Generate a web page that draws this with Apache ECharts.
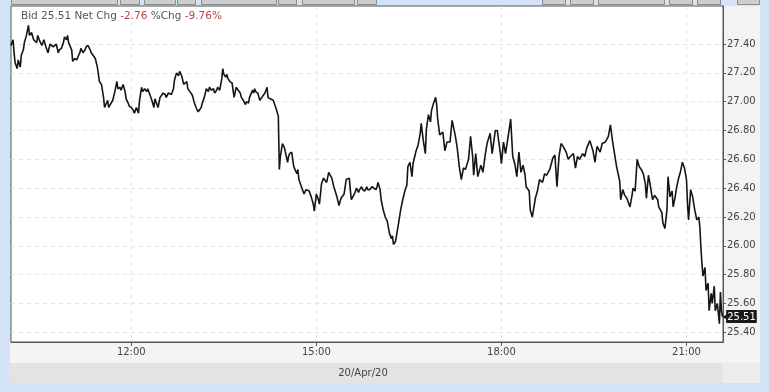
<!DOCTYPE html>
<html>
<head>
<meta charset="utf-8">
<script src="https://cdn.jsdelivr.net/npm/echarts@6/dist/echarts.min.js"></script>
<style>
html,body{margin:0;padding:0;background:#d3e4f7;}
#chart{width:769px;height:392px;}
</style>
</head>
<body>
<div id="chart"></div>
<script>
// ---- data ----
const times = [
"10:03","10:05","10:06","10:07","10:09","10:10","10:12","10:13","10:15","10:16","10:18","10:20","10:21","10:23","10:25","10:28","10:29","10:31","10:33","10:35","10:37","10:39","10:41","10:44","10:47","10:49","10:50","10:52","10:54","10:55","10:57","10:58","10:59",
"11:02","11:03","11:05","11:07","11:08","11:10","11:11","11:13","11:15","11:16","11:18","11:20","11:21","11:23","11:25","11:27","11:29","11:31","11:33","11:34","11:37","11:38","11:39","11:42","11:44","11:46","11:47","11:49","11:50","11:52","11:54","11:55","11:57","11:58",
"12:00","12:02","12:03","12:05","12:07","12:08","12:10","12:11","12:13","12:15","12:16","12:18","12:20","12:22","12:23","12:26","12:28","12:31","12:33","12:34","12:36","12:39","12:41","12:42","12:44","12:46","12:47","12:49","12:50","12:51","12:54","12:55","12:57","12:59",
"13:00","13:01","13:03","13:05","13:08","13:09","13:11","13:13","13:15","13:16","13:18","13:20","13:21","13:23","13:24","13:26","13:27","13:28","13:29","13:30","13:32","13:33","13:34","13:36","13:38","13:39","13:40","13:42","13:44","13:46","13:47","13:49","13:51","13:52","13:54","13:55","13:58","13:59",
"14:00","14:01","14:03","14:05","14:07","14:08","14:10","14:12","14:13","14:15","14:16","14:18","14:19","14:21","14:23","14:24","14:25","14:27","14:29","14:32","14:33","14:34","14:36","14:38","14:41","14:42","14:43","14:46","14:48","14:50","14:53","14:55","14:57","14:58",
"15:00","15:02","15:03","15:05","15:07","15:10","15:12","15:15","15:17","15:20","15:22","15:24","15:27","15:29","15:32","15:33","15:34","15:37","15:39","15:41","15:42","15:44","15:45","15:47","15:49","15:50","15:52","15:54","15:55","15:58","15:59",
"16:00","16:02","16:03","16:05","16:07","16:09","16:11","16:13","16:14","16:15","16:17","16:20","16:22","16:24","16:26","16:28","16:29","16:31","16:33","16:34","16:37","16:39","16:41","16:42","16:44","16:46","16:47","16:49","16:51","16:52","16:54","16:56","16:57","16:58",
"17:00","17:03","17:05","17:07","17:10","17:12","17:15","17:17","17:19","17:21","17:23","17:25","17:28","17:30","17:32","17:33","17:35","17:37","17:40","17:42","17:44","17:46","17:49","17:51","17:54","17:56","17:59",
"18:00","18:02","18:04","18:07","18:09","18:11","18:13","18:15","18:17","18:19","18:21","18:23","18:24","18:27","18:28","18:30","18:33","18:35","18:37","18:40","18:42","18:44","18:47","18:50","18:52","18:54","18:56","18:58",
"19:00","19:03","19:05","19:07","19:10","19:12","19:14","19:16","19:19","19:21","19:23","19:26","19:29","19:31","19:33","19:36","19:38","19:41","19:44","19:46","19:48","19:50","19:52","19:55","19:56","19:58",
"20:00","20:02","20:05","20:07","20:08","20:10","20:12","20:14","20:16","20:18","20:20","20:21","20:23","20:25","20:27","20:29","20:32","20:33","20:36","20:37","20:39","20:41","20:42","20:44","20:46","20:47","20:49","20:50","20:52","20:54","20:56","20:58",
"21:00","21:01","21:02","21:04","21:06","21:08","21:10","21:12","21:13","21:14","21:15","21:16","21:18","21:19","21:21","21:22","21:24","21:25","21:27","21:28","21:30","21:32","21:33","21:34","21:35"
];
const prices = [
27.39,27.43,27.34,27.27,27.23,27.29,27.24,27.32,27.36,27.41,27.46,27.53,27.46,27.48,27.43,27.41,27.46,27.42,27.39,27.43,27.38,27.34,27.40,27.38,27.40,27.34,27.36,27.37,27.41,27.45,27.43,27.46,27.41,
27.36,27.28,27.30,27.29,27.31,27.34,27.37,27.34,27.36,27.38,27.39,27.36,27.34,27.32,27.30,27.24,27.14,27.12,27.03,26.96,27.01,26.96,26.96,27.01,27.07,27.14,27.09,27.10,27.08,27.12,27.07,27.02,26.99,26.97,
26.96,26.94,26.92,26.96,26.92,27.01,27.10,27.07,27.09,27.07,27.09,27.05,27.01,26.96,27.02,26.96,27.03,27.06,27.05,27.03,27.06,27.05,27.09,27.15,27.20,27.18,27.21,27.18,27.15,27.12,27.14,27.09,27.07,27.05,
27.03,27.00,26.96,26.93,26.96,26.99,27.03,27.09,27.07,27.10,27.08,27.09,27.06,27.08,27.10,27.08,27.09,27.16,27.23,27.19,27.17,27.19,27.16,27.14,27.13,27.08,27.03,27.10,27.08,27.06,27.03,27.01,26.98,27.00,26.99,27.03,27.08,27.06,
27.09,27.07,27.06,27.01,27.03,27.03,27.06,27.10,27.03,27.02,27.03,27.01,27.00,26.95,26.90,26.53,26.62,26.71,26.68,26.58,26.62,26.64,26.65,26.55,26.50,26.53,26.46,26.40,26.36,26.39,26.38,26.34,26.29,26.24,
26.36,26.32,26.29,26.43,26.47,26.44,26.51,26.47,26.41,26.34,26.28,26.33,26.36,26.46,26.47,26.39,26.32,26.36,26.40,26.37,26.39,26.41,26.39,26.38,26.41,26.39,26.39,26.41,26.40,26.39,26.41,
26.44,26.39,26.32,26.25,26.20,26.17,26.09,26.05,26.07,26.01,26.03,26.16,26.25,26.32,26.38,26.42,26.55,26.58,26.48,26.57,26.66,26.70,26.78,26.85,26.73,26.64,26.81,26.91,26.86,26.94,26.99,27.03,26.98,26.88,
26.77,26.79,26.66,26.72,26.72,26.87,26.77,26.68,26.55,26.46,26.54,26.53,26.60,26.76,26.62,26.49,26.64,26.48,26.56,26.51,26.62,26.71,26.78,26.64,26.80,26.80,26.64,
26.57,26.72,26.64,26.78,26.88,26.62,26.57,26.48,26.65,26.51,26.56,26.49,26.41,26.38,26.25,26.20,26.33,26.38,26.46,26.44,26.50,26.49,26.53,26.61,26.63,26.41,26.62,26.71,
26.69,26.65,26.60,26.62,26.64,26.54,26.62,26.60,26.64,26.62,26.68,26.73,26.66,26.58,26.69,26.65,26.71,26.72,26.76,26.84,26.73,26.64,26.55,26.45,26.32,26.39,
26.35,26.33,26.27,26.35,26.40,26.38,26.60,26.55,26.53,26.50,26.43,26.33,26.49,26.41,26.32,26.35,26.32,26.27,26.23,26.16,26.12,26.25,26.48,26.34,26.38,26.27,26.34,26.39,26.46,26.51,26.58,26.54,
26.46,26.29,26.18,26.39,26.34,26.25,26.18,26.20,26.13,25.99,25.88,25.79,25.85,25.69,25.74,25.55,25.67,25.60,25.72,25.55,25.60,25.46,25.68,25.55,25.51
];
const yTickValues = [25.40, 25.60, 25.80, 26.00, 26.20, 26.40, 26.60, 26.80, 27.00, 27.20, 27.40];
const xTickLabels = ["12:00", "15:00", "18:00", "21:00"];
const headerBid = "25.51";
const headerNetChg = "-2.76";
const headerPctChg = "-9.76%";
const dateLabel = "20/Apr/20";

// ---- build ----
function toMin(s){ const p = s.split(':'); return (+p[0]) * 60 + (+p[1]); }
function fmtMin(m){ const h = Math.floor(m / 60), mm = Math.round(m % 60); return (h < 10 ? '0' : '') + h + ':' + (mm < 10 ? '0' : '') + mm; }
const seriesData = times.map((t, i) => [toMin(t), prices[i]]);
const xTickValues = xTickLabels.map(toMin);
const lastPrice = prices[prices.length - 1];
const yMin = 25.333, yMax = 27.664;

const chart = echarts.init(document.getElementById('chart'), null, {renderer: 'canvas'});

const buttons = [[11,118],[120,140],[144,176],[177,196],[201,277],[278,297],[302,355],[357,377],[542,566],[570,594],[598,665],[669,693],[697,721],[737,760]];
const graphics = [
  {type:'rect', shape:{x:723, y:6, width:37, height:357}, style:{fill:'#f3f3f3'}, z:-10, silent:true},
  {type:'rect', shape:{x:10, y:342, width:713, height:21}, style:{fill:'#f4f4f4'}, z:-10, silent:true},
  {type:'rect', shape:{x:10, y:363, width:713, height:20}, style:{fill:'#e3e3e3'}, z:-10, silent:true},
  {type:'rect', shape:{x:723, y:363, width:37, height:20}, style:{fill:'#ececec'}, z:-10, silent:true},
  {type:'text', x:363, y:373, style:{text:dateLabel, fill:'#444', font:'10px "DejaVu Sans"', textAlign:'center', textVerticalAlign:'middle'}, silent:true}
];
buttons.forEach(b => graphics.push({type:'rect', shape:{x:b[0]+0.5, y:-4.5, width:b[1]-b[0]-1, height:9}, style:{fill:'#cdcdcd', stroke:'#8c8c8c', lineWidth:1}, silent:true}));

const labelFont = {color: '#444', fontSize: 10, fontFamily: 'DejaVu Sans'};

chart.setOption({
  animation: false,
  backgroundColor: '#d3e4f7',
  title: {
    text: '{l|Bid ' + headerBid + ' Net Chg }{r|' + headerNetChg + '}{l| %Chg }{r|' + headerPctChg + '}',
    left: 21, top: 11, padding: 0,
    textStyle: {
      fontWeight: 'normal',
      rich: {
        l: {color:'#555', fontSize:10.5, fontFamily:'DejaVu Sans', fontWeight:'normal'},
        r: {color:'#b5403f', fontSize:10.5, fontFamily:'DejaVu Sans', fontWeight:'normal'}
      }
    }
  },
  graphic: graphics,
  grid: {left: 11, top: 6, right: 46, bottom: 50, show: true, backgroundColor: '#ffffff', borderColor: '#555', borderWidth: 1},
  xAxis: {
    type: 'value', min: 603, max: 1295.5,
    axisLine: {show: true, lineStyle: {color: '#555'}},
    axisTick: {show: true, customValues: xTickValues, length: 4, lineStyle: {color: '#555'}},
    axisLabel: Object.assign({customValues: xTickValues, formatter: v => fmtMin(v), margin: 5}, labelFont),
    splitLine: {show: true, lineStyle: {color: '#e4e4e4', type: [4, 4]}}
  },
  yAxis: [{
    type: 'value', position: 'right', min: yMin, max: yMax,
    axisLine: {show: true, lineStyle: {color: '#555'}},
    axisTick: {show: true, customValues: yTickValues, length: 3, lineStyle: {color: '#555'}},
    axisLabel: Object.assign({customValues: yTickValues, formatter: v => v.toFixed(2), margin: 4}, labelFont),
    splitLine: {show: true, lineStyle: {color: '#e4e4e4', type: [4, 4]}}
  }, {
    type: 'value', position: 'right', min: yMin, max: yMax,
    axisLine: {show: false},
    axisTick: {show: false},
    splitLine: {show: false},
    axisLabel: {
      customValues: [lastPrice], margin: -1,
      formatter: v => '{a|◀}{b|' + v.toFixed(2) + '}',
      rich: {
        a: {color: '#1a1a1a', fontSize: 8, fontFamily: 'DejaVu Sans', padding: [0, -2, 0, 0]},
        b: {color: '#ffffff', backgroundColor: '#1a1a1a', fontSize: 10, fontFamily: 'DejaVu Sans', padding: [2, 1, 1, 1]}
      }
    }
  }],
  series: [{
    type: 'line',
    data: seriesData,
    showSymbol: false,
    lineStyle: {color: '#151515', width: 1.6}
  }]
});
</script>
</body>
</html>
